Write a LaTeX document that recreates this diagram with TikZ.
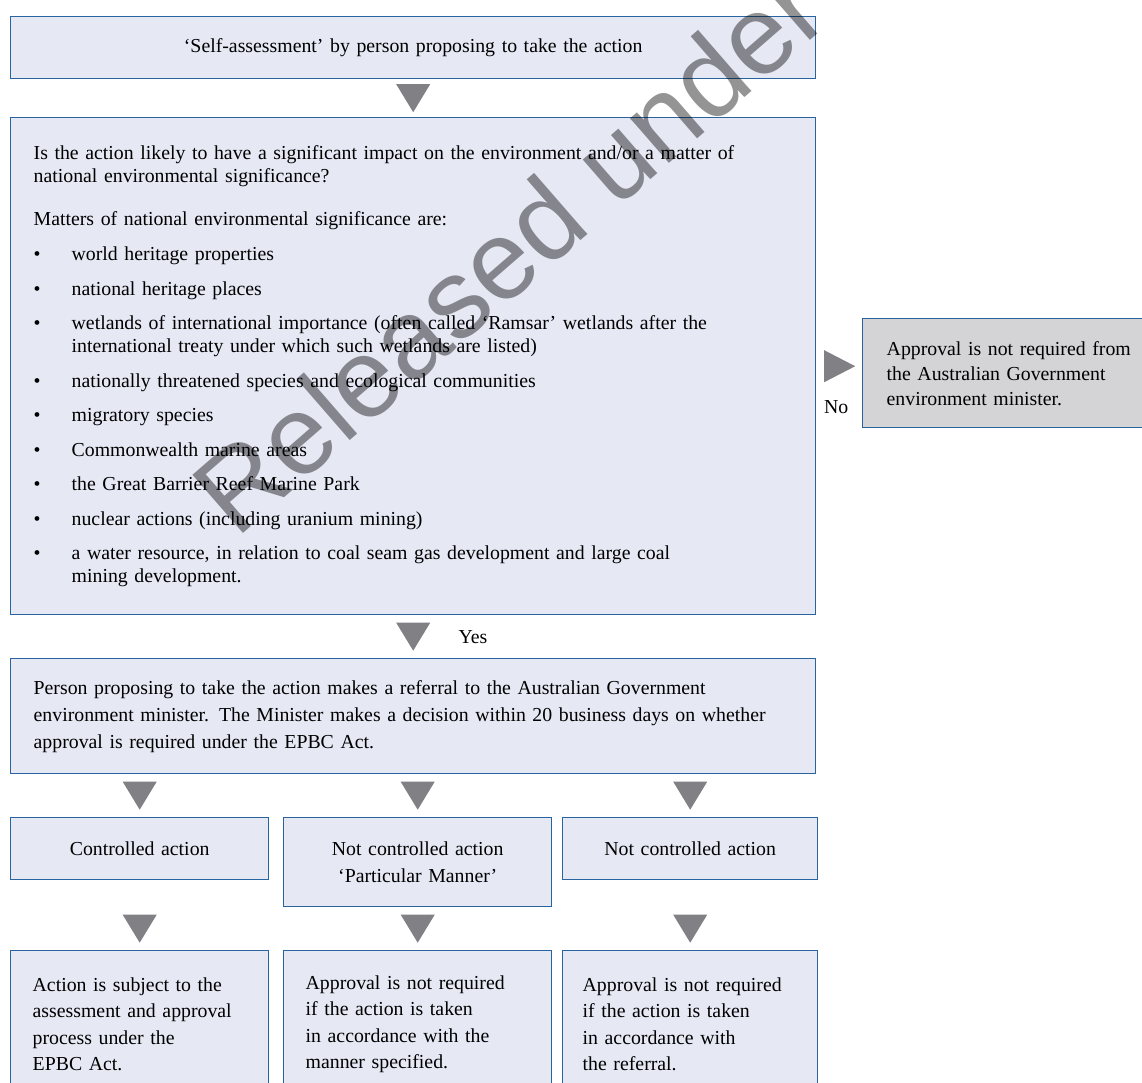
\documentclass[tikz,border=0pt]{standalone}
\usepackage{fontspec}
\setmainfont{Liberation Serif}
\newfontfamily\wmfont{Liberation Sans}
\usetikzlibrary{calc}
\definecolor{boxblue}{RGB}{40, 100, 160}
\definecolor{boxfill}{RGB}{230, 232, 244}
\definecolor{nofill}{RGB}{212, 212, 215}
\definecolor{arrowgray}{RGB}{128, 128, 133}
\newcommand{\boxfont}{\fontsize{9.9}{13.3}\selectfont}
\newcommand{\listfont}{\fontsize{9.9}{11.5}\selectfont}
\newcommand{\itm}{\makebox[19pt][l]{\textbullet}}
\newcommand{\cont}{\hspace*{19pt}}
\newcommand{\downtri}[1]{\fill[arrowgray] ($(#1)+(-17,-14)$) -- ++(34,0) -- ++(-17,28) -- cycle;}

\begin{document}
\begin{tikzpicture}[x=0.5pt, y=-0.5pt,
    box/.style={draw=boxblue, fill=boxfill, line width=0.7pt, anchor=north west,
      inner xsep=11.5pt, inner ysep=0pt, align=left, font=\boxfont},
    lbl/.style={font=\boxfont, inner sep=0pt},
    wm/.style={font=\wmfont\fontsize{56}{56}\selectfont, text=black, text opacity=0.42,
      rotate=41, anchor=base west, inner sep=0pt}]
  \useasboundingbox (0,0) rectangle (1142,1083);
  \clip (0,0) rectangle (1142,1083);
  % main column
  \node[box, align=center, text width=379.5pt, minimum height=31pt] (self) at (10,16)
    {‘Self-assessment’ by person proposing to take the action};
  \node[box, text width=379.5pt, minimum height=248.5pt, font=\listfont] (check) at (10,117)
    {Is the action likely to have a significant impact on the environment and/or a matter of\\
     national environmental significance?\\[10pt]
     Matters of national environmental significance are:\\[6pt]
     \itm world heritage properties\\[5.75pt]
     \itm national heritage places\\[5.75pt]
     \itm wetlands of international importance (often called ‘Ramsar’ wetlands after the\\
     \cont international treaty under which such wetlands are listed)\\[5.75pt]
     \itm nationally threatened species and ecological communities\\[5.75pt]
     \itm migratory species\\[5.75pt]
     \itm Commonwealth marine areas\\[5.75pt]
     \itm the Great Barrier Reef Marine Park\\[5.75pt]
     \itm nuclear actions (including uranium mining)\\[5.75pt]
     \itm a water resource, in relation to coal seam gas development and large coal\\
     \cont mining development.};
  \node[box, fill=nofill, inner xsep=12pt, text width=140pt, minimum height=54.5pt,
    font=\fontsize{9.9}{12.5}\selectfont] (notreq) at (862,318)
    {Approval is not required from\\ the Australian Government\\ environment minister.};
  \node[box, text width=379.5pt, minimum height=57.5pt, font=\fontsize{9.9}{13.5}\selectfont]
    (referral) at (10,658)
    {Person proposing to take the action makes a referral to the Australian Government\\
     environment minister. The Minister makes a decision within 20 business days on whether\\
     approval is required under the EPBC Act.};
  % decisions
  \node[box, align=center, text width=106pt, minimum height=31pt] (ca) at (10,817) {Controlled action};
  \node[box, align=center, text width=111pt, minimum height=44.5pt] (pm) at (283,817)
    {Not controlled action\\ ‘Particular Manner’};
  \node[box, align=center, text width=104.5pt, minimum height=31pt] (nc) at (562,817) {Not controlled action};
  % outcomes
  \node[box, inner xsep=11pt, text width=107pt, minimum height=73.5pt] (car) at (10,950)
    {Action is subject to the\\ assessment and approval\\ process under the\\ EPBC Act.};
  \node[box, inner xsep=11pt, text width=112pt, minimum height=73.5pt] (pmr) at (283,950)
    {Approval is not required\\ if the action is taken\\ in accordance with the\\ manner specified.};
  \node[box, inner xsep=10pt, text width=107.5pt, minimum height=73.5pt] (ncr) at (562,950)
    {Approval is not required\\ if the action is taken\\ in accordance with\\ the referral.};
  % arrows
  \coordinate (t1) at ($(self.south)!0.5!(check.north)$);
  \downtri{t1}
  \coordinate (t2) at ($(check.south)!0.5!(referral.north)$);
  \downtri{t2}
  \node[lbl, anchor=west] (yes) at ($(t2)+(45,0)$) {Yes};
  \coordinate (t3) at ($(check.east)!0.5!(notreq.west |- check.east)$);
  \fill[arrowgray] ($(t3)+(-15,-16)$) -- ++(31,16) -- ++(-31,16) -- cycle;
  \node[lbl] (no) at ($(t3)+(-3,41)$) {No};
  \foreach \a/\b in {ca/car, pm/pmr, nc/ncr} {
    \coordinate (u\a) at ($(\a.north |- referral.south)!0.5!(\a.north)$);
    \downtri{u\a}
    \coordinate (v\a) at ($(\b.north |- pm.south)!0.5!(\b.north)$);
    \downtri{v\a}
  }
  % stamp
  \node[wm] (stamp) at (236,540) {Released under};
\end{tikzpicture}
\end{document}
